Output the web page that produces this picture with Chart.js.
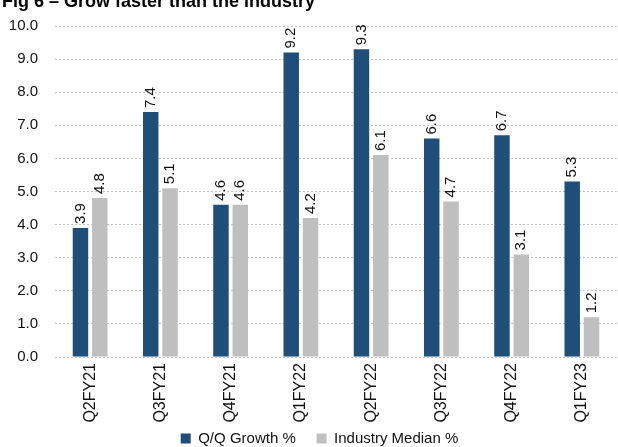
<!DOCTYPE html>
<html lang="en">
<head>
<meta charset="UTF-8">
<title>Grow faster than the industry</title>
<script src="https://cdn.jsdelivr.net/npm/chart.js"></script>
<style>
  html, body { margin: 0; padding: 0; background: #fff; overflow: hidden; }
  .wrap { position: relative; width: 618px; height: 447px; }
  .title { position: absolute; left: 2px; top: -9px; font: bold 18px "Liberation Sans", Arial, sans-serif; color: #000; white-space: nowrap; }
  canvas { position: absolute; left: 0; top: 0; }
</style>
</head>
<body>
<div class="wrap">
  <canvas id="growth" width="618" height="447"></canvas>
  <div class="title">Fig 6 – Grow faster than the industry</div>
</div>
<script>
const quarters = ['Q2FY21', 'Q3FY21', 'Q4FY21', 'Q1FY22', 'Q2FY22', 'Q3FY22', 'Q4FY22', 'Q1FY23'];
const qoqGrowth = [3.9, 7.4, 4.6, 9.2, 9.3, 6.6, 6.7, 5.3];
const industryMedian = [4.8, 5.1, 4.6, 4.2, 6.1, 4.7, 3.1, 1.2];

const FONT = '"Liberation Sans", Arial, sans-serif';

// value labels written upward above each bar
const barLabels = {
  id: 'barLabels',
  afterDatasetsDraw(chart) {
    const ctx = chart.ctx;
    ctx.save();
    ctx.font = '15px ' + FONT;
    ctx.fillStyle = '#111';
    ctx.textAlign = 'left';
    ctx.textBaseline = 'middle';
    chart.data.datasets.forEach((ds, i) => {
      chart.getDatasetMeta(i).data.forEach((bar, j) => {
        ctx.save();
        ctx.translate(bar.x, bar.y - 4);
        ctx.rotate(-Math.PI / 2);
        ctx.fillText(ds.data[j].toFixed(1), 0, 0);
        ctx.restore();
      });
    });
    ctx.restore();
  }
};

// the original legend sits a little right of the canvas centre
const nudgeLegend = {
  id: 'nudgeLegend',
  afterLayout(chart) {
    chart.legend.left += 11;
    chart.legend.right += 11;
  }
};

new Chart(document.getElementById('growth'), {
  type: 'bar',
  data: {
    labels: quarters,
    datasets: [
      { label: 'Q/Q Growth %', data: qoqGrowth, backgroundColor: '#1F4E79' },
      { label: 'Industry Median %', data: industryMedian, backgroundColor: '#BFBFBF' }
    ]
  },
  options: {
    responsive: false,
    animation: false,
    devicePixelRatio: 1,
    categoryPercentage: 0.55,
    barPercentage: 0.8,
    layout: { padding: { top: 16, right: 1, left: 0, bottom: -9 } },
    scales: {
      x: {
        grid: { display: false, drawTicks: false, tickLength: 0 },
        border: { display: false },
        afterFit(scale) { scale.height = 74; },
        ticks: {
          color: '#111',
          font: { family: FONT, size: 16 },
          maxRotation: 90,
          minRotation: 90,
          padding: 6
        }
      },
      y: {
        min: 0,
        max: 10,
        afterFit(scale) { scale.width = 55; },
        grid: { color: '#c4c4c4', drawTicks: false },
        border: { display: false, dash: [2, 2] },
        ticks: {
          stepSize: 1,
          color: '#111',
          padding: 17,
          font: { family: FONT, size: 15 },
          callback: v => v.toFixed(1)
        }
      }
    },
    plugins: {
      legend: {
        position: 'bottom',
        labels: {
          color: '#111',
          boxWidth: 10,
          boxHeight: 10,
          padding: 0,
          font: { family: FONT, size: 15 },
          generateLabels(chart) {
            // pad the first item so the two entries sit apart like the original
            const items = Chart.defaults.plugins.legend.labels.generateLabels(chart);
            items[0].text += '\u00a0\u00a0\u00a0\u00a0\u00a0';
            return items;
          }
        }
      },
      tooltip: { enabled: false }
    }
  },
  plugins: [barLabels, nudgeLegend]
});
</script>
</body>
</html>
